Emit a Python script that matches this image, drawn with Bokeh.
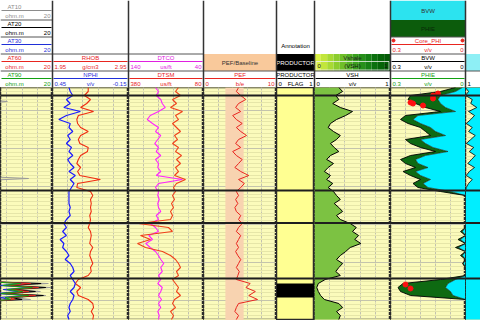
import numpy as np
from bokeh.plotting import figure
from bokeh.layouts import column, row
from bokeh.models import Range1d, FixedTicker, Span, ColumnDataSource
from bokeh.core.properties import value
from bokeh.embed import file_html
from bokeh.resources import INLINE

FONT = "Liberation Sans"

# ---------------- data ----------------
DEPTH = [2494, 2495, 2496, 2497, 2498, 2499, 2500, 2501, 2502, 2503,
         2504, 2505, 2506, 2507, 2508, 2509, 2510, 2511, 2512, 2513,
         2514, 2515, 2516, 2517, 2518, 2519, 2520, 2521, 2522, 2523,
         2524, 2525, 2526, 2527, 2528, 2529, 2530, 2531, 2532, 2533,
         2534, 2535, 2536, 2537, 2538, 2539, 2540, 2541, 2542, 2543,
         2544, 2545, 2546, 2547, 2548, 2549, 2550, 2551, 2552]

NPHI = [0.32, 0.31, 0.29, 0.34, 0.31, 0.36, 0.23, 0.34, 0.40, 0.31,
        0.32, 0.29, 0.33, 0.31, 0.34, 0.30, 0.32, 0.29, 0.33, 0.31,
        0.28, 0.32, 0.27, 0.31, 0.28, 0.30, 0.32, 0.32, 0.32, 0.32,
        0.31, 0.32, 0.31, 0.34, 0.36, 0.34, 0.37, 0.34, 0.39, 0.36,
        0.37, 0.34, 0.32, 0.35, 0.31, 0.29, 0.28, 0.31, 0.29, 0.27,
        0.28, 0.31, 0.28, 0.29, 0.31, 0.32, 0.31, 0.33, 0.32]

RHOB = [2.42, 2.42, 2.37, 2.45, 2.40, 2.32, 2.49, 2.29, 2.27, 2.28,
        2.32, 2.42, 2.32, 2.29, 2.31, 2.42, 2.41, 2.32, 2.29, 2.27,
        2.32, 2.28, 2.31, 2.58, 2.28, 2.27, 2.45, 2.48, 2.45, 2.46,
        2.45, 2.46, 2.44, 2.45, 2.44, 2.42, 2.45, 2.46, 2.45, 2.44,
        2.48, 2.45, 2.44, 2.46, 2.48, 2.45, 2.46, 2.42, 2.29, 2.25,
        2.32, 2.27, 2.29, 2.42, 2.48, 2.49, 2.46, 2.49, 2.48]

DTCO = [104, 100, 103, 97, 95, 91, 100, 111, 115, 108,
        100, 104, 97, 101, 105, 100, 103, 97, 104, 100,
        101, 97, 103, 68, 100, 104, 100, 101, 99, 101,
        100, 97, 103, 100, 111, 104, 100, 113, 108, 117,
        111, 104, 100, 97, 93, 97, 95, 100, 97, 101,
        95, 97, 100, 96, 100, 97, 101, 99, 100]

DTSM = [180, 192, 172, 204, 188, 212, 164, 192, 180, 204,
        188, 172, 196, 184, 204, 180, 192, 168, 188, 172,
        192, 180, 196, 152, 188, 200, 192, 204, 196, 208,
        200, 212, 204, 212, 340, 220, 204, 332, 292, 344,
        312, 244, 212, 192, 180, 172, 188, 180, 204, 192,
        180, 188, 172, 196, 204, 192, 212, 200, 208]

PEF = [4.8, 4.5, 5.1, 5.8, 4.8, 4.4, 5.1, 4.0, 4.5, 5.3,
       4.5, 5.1, 5.9, 4.8, 4.4, 5.1, 4.0, 4.5, 5.3, 4.8,
       4.3, 5.1, 6.2, 4.8, 5.6, 5.1, 4.5, 4.8, 4.4, 4.7,
       4.3, 4.5, 5.1, 4.8, 5.3, 4.8, 4.5, 5.1, 4.8, 4.5,
       4.8, 4.4, 4.7, 5.1, 4.8, 4.5, 4.9, 4.7, 4.5, 6.4,
       5.8, 7.1, 6.2, 7.4, 4.8, 4.5, 4.3, 4.8, 4.5]
PEF_BAND = [3.0, 5.5]

VSH = [0.32, 0.37, 0.28, 0.32, 0.24, 0.34, 0.50, 0.41, 0.29, 0.21,
       0.18, 0.25, 0.34, 0.29, 0.21, 0.26, 0.32, 0.21, 0.16, 0.25,
       0.18, 0.13, 0.21, 0.16, 0.24, 0.18, 0.25, 0.29, 0.34, 0.26,
       0.32, 0.37, 0.29, 0.34, 0.47, 0.55, 0.50, 0.58, 0.53, 0.61,
       0.47, 0.41, 0.34, 0.29, 0.37, 0.32, 0.28, 0.34, 0.14, 0.05,
       0.03, 0.05, 0.08, 0.13, 0.32, 0.37, 0.29, 0.34, 0.32]

PHIE = [0.04, 0.10, 0.22, 0.23, 0.20, 0.16, 0.10, 0.24, 0.26, 0.23,
        0.18, 0.16, 0.14, 0.24, 0.22, 0.18, 0.12, 0.22, 0.26, 0.24,
        0.20, 0.25, 0.22, 0.18, 0.21, 0.19, 0.10, 0.0, 0.0, 0.0,
        0.0, 0.0, 0.0, 0.0, 0.0, 0.0, 0.02, 0.0, 0.03, 0.0,
        0.04, 0.0, 0.02, 0.0, 0.012, 0.0, 0.0, 0.0, 0.10, 0.25,
        0.27, 0.26, 0.22, 0.0, 0.0, 0.0, 0.0, 0.0, 0.0]

BVW = [0.012, 0.04, 0.10, 0.11, 0.10, 0.08, 0.04, 0.19, 0.21, 0.18,
       0.14, 0.12, 0.08, 0.18, 0.16, 0.13, 0.07, 0.16, 0.20, 0.19,
       0.15, 0.20, 0.18, 0.14, 0.17, 0.15, 0.06, 0.0, 0.0, 0.0,
       0.0, 0.0, 0.0, 0.0, 0.0, 0.0, 0.012, 0.0, 0.02, 0.0,
       0.028, 0.0, 0.012, 0.0, 0.008, 0.0, 0.0, 0.0, 0.04, 0.07,
       0.08, 0.06, 0.05, 0.0, 0.0, 0.0, 0.0, 0.0, 0.0]

SW = [1.0, 0.96, 1.0, 0.91, 0.93, 0.85, 0.96, 0.88, 0.93, 0.99,
      0.91, 0.96, 0.87, 0.93, 0.99, 0.89, 0.95, 0.87, 0.92, 0.97,
      0.88, 0.95, 0.99, 0.91, 0.96, 0.99, 1.0, 1.0, 1.0, 1.0,
      1.0, 1.0, 1.0, 1.0, 1.0, 1.0, 1.0, 1.0, 1.0, 1.0,
      1.0, 1.0, 1.0, 1.0, 1.0, 1.0, 1.0, 1.0, 1.0, 1.0,
      1.0, 1.0, 1.0, 1.0, 1.0, 1.0, 1.0, 1.0, 1.0]

CORE_DEPTH = [2495.5, 2496.0, 2496.75, 2497.75, 2498.0, 2498.5, 2543.25, 2544.25]
CORE_PHI = [0.11, 0.13, 0.13, 0.22, 0.21, 0.17, 0.24, 0.22]

RES_DEPTH = [2494.0, 2497.0, 2497.5, 2498.0, 2516.25, 2516.75, 2517.25, 2542.5, 2543.0, 2543.5,
             2544.0, 2544.5, 2545.0, 2545.5, 2546.0, 2546.5, 2547.0, 2547.5, 2552.25]
AT10 = [2.0, 2.0, 8.1, 2.0, 2.0, 13.7, 2.0, 2.0, 18.9, 9.0, 19.5, 10.0, 16.8, 8.5, 18.2, 9.5, 14.2, 2.0, 2.0]
AT20 = [2.0, 2.0, 2.0, 2.0, 2.0, 2.0, 2.0, 2.0, 17.0, 8.5, 18.2, 9.5, 15.5, 7.5, 17.6, 9.0, 12.0, 2.0, 2.0]
AT30 = [2.0, 2.0, 2.0, 2.0, 2.0, 2.0, 2.0, 2.0, 12.0, 6.0, 14.0, 7.0, 11.0, 5.0, 13.0, 6.0, 9.0, 2.0, 2.0]
AT60 = [2.0, 2.0, 2.0, 2.0, 2.0, 2.0, 2.0, 2.0, 14.2, 8.0, 16.3, 9.0, 13.7, 7.0, 15.5, 8.4, 10.0, 2.0, 2.0]
AT90 = [2.0, 2.0, 2.0, 2.0, 2.0, 2.0, 2.0, 2.0, 11.6, 7.0, 14.7, 8.0, 12.1, 6.5, 13.7, 7.5, 9.0, 2.0, 2.0]

FLAG_DEPTH = [2494.0, 2543.0, 2543.0, 2546.5, 2546.5, 2552.25]
FLAG = [0, 0, 1, 1, 0, 0]

TOPS = [2496.0, 2519.75, 2527.9, 2541.75]

# header rows
ROW_TRACK = [0, 0, 0, 0, 0, 1, 1, 2, 2, 3, 4, 5, 6, 6, 6, 7]
ROW_SLOT = [0, 1, 2, 3, 4, 3, 4, 3, 4, 4, 4, 4, 2, 3, 4, 4]
ROW_TITLE = ["AT10", "AT20", "AT30", "AT60", "AT90", "RHOB", "NPHI", "DTCO", "DTSM",
             "PEF", "PRODUCTOR", "VSH", "Core_PHI", "BVW", "PHIE", ""]
ROW_UNIT = ["ohm.m", "ohm.m", "ohm.m", "ohm.m", "ohm.m", "g/cm3", "v/v", "us/ft", "us/ft",
            "b/e", "FLAG", "v/v", "v/v", "v/v", "v/v", ""]
ROW_LEFT = ["", "", "", "", "", "1.95", "0.45", "140", "380", "0", "0", "0", "0.3", "0.3", "0.3", "1"]
ROW_RIGHT = ["20", "20", "20", "20", "20", "2.95", "-0.15", "40", "80", "10", "1", "1", "0", "0", "0", ""]

RED = "#e8251f"
BLUE = "#1f2fd8"
GREEN = "#12a012"
MAG = "#e020e0"
ROW_COLOR = ["#8c8c8c", "#000000", BLUE, RED, GREEN, RED, BLUE, MAG, RED,
             RED, "#000000", "#000000", RED, "#000000", GREEN, "#000000"]

# ---------------- layout constants ----------------
EDGES = [0, 52, 128, 203, 276, 314, 390, 465, 480]
CENTERS = [14, 90, 165.5, 239.5, 295, 352, 427.5, 472.5]
HDR_H = 87
DATA_H = 233
YELLOW = "#fbfbbb"

yr = Range1d(start=2552.25, end=2494.0)
MAJOR = [2499.75, 2509.25, 2518.75, 2528.25, 2537.75, 2547.25]
MINOR = list(np.arange(2494.05, 2552.3, 0.95))


def track(w, xr, bg=YELLOW, xticks=()):
    p = figure(width=w, height=DATA_H, x_range=xr, y_range=yr, output_backend="svg",
               toolbar_location=None, min_border=0, background_fill_color=bg,
               x_axis_location=None, y_axis_location=None,
               outline_line_color="#2a2a2a", outline_line_width=1.5)
    p.xgrid.ticker = FixedTicker(ticks=list(xticks))
    p.xgrid.grid_line_color = "#c2c2b0"
    p.xgrid.grid_line_dash = "3 1"
    p.ygrid.ticker = FixedTicker(ticks=MAJOR, minor_ticks=MINOR)
    p.ygrid.grid_line_color = "#c4c4ac"
    p.ygrid.minor_grid_line_color = "#e6e6a8"
    for t in TOPS:
        p.add_layout(Span(location=t, dimension="width", line_color="#1e1e1e", line_width=2))
    return p


figs = []

# Track 1 resistivity
t1 = track(52, Range1d(6.3, 20), xticks=[8, 12, 16])
for vals, col in [(AT10, "#9a9a9a"), (AT20, "#000000"), (AT30, BLUE), (AT60, RED), (AT90, GREEN)]:
    t1.line(vals, RES_DEPTH, line_color=col, line_width=1)
figs.append(t1)

# Track 2 density / neutron
t2 = track(76, Range1d(1.95, 2.95), xticks=[2.15, 2.35, 2.55, 2.75])
t2.extra_x_ranges = {"nphi": Range1d(0.45, -0.15)}
t2.line(RHOB, DEPTH, line_color="#f02a10", line_width=1.1)
t2.line(NPHI, DEPTH, line_color="#1a1aff", line_width=1.2, x_range_name="nphi")
figs.append(t2)

# Track 3 sonic
t3 = track(75, Range1d(140, 40), xticks=[120, 100, 80, 60])
t3.extra_x_ranges = {"dtsm": Range1d(380, 80)}
t3.line(DTCO, DEPTH, line_color="#ff22ff", line_width=1.1)
t3.line(DTSM, DEPTH, line_color="#f0401a", line_width=1.1, x_range_name="dtsm")
figs.append(t3)

# Track 4 PEF
t4 = track(73, Range1d(0, 10), xticks=[2, 4, 6, 8])
t4.quad(left=PEF_BAND[0], right=PEF_BAND[1], top=DEPTH[0], bottom=yr.start,
        fill_color="#f8d3b0", line_color=None)
t4.line(PEF, DEPTH, line_color="#e8251f", line_width=1)
figs.append(t4)

# Track 5 flag
t5 = track(38, Range1d(0, 1), bg="#ffff92")
t5.xgrid.grid_line_color = None
t5.ygrid.grid_line_color = None
t5.ygrid.minor_grid_line_color = None
t5.harea(x1=0, x2=FLAG, y=FLAG_DEPTH, fill_color="#000000")
figs.append(t5)

# Track 6 VSH
t6 = track(76, Range1d(0, 1), xticks=[0.2, 0.4, 0.6, 0.8])
t6.harea(x1=0, x2=VSH, y=DEPTH, fill_color="#7cc242")
t6.line(VSH, DEPTH, line_color="#000000", line_width=1)
figs.append(t6)

# Track 7 porosity
t7 = track(75, Range1d(0.3, 0), xticks=[0.24, 0.18, 0.12, 0.06])
t7.harea(x1=PHIE, x2=BVW, y=DEPTH, fill_color="#0e6a12")
t7.harea(x1=BVW, x2=0, y=DEPTH, fill_color="#00eeff")
t7.line(PHIE, DEPTH, line_color="#000000", line_width=0.9)
t7.line(BVW, DEPTH, line_color="#1a1a1a", line_width=0.6)
t7.scatter(CORE_PHI, CORE_DEPTH, marker="circle", size=5, fill_color="#ff1010", line_color="#ff1010")
figs.append(t7)

# Track 8 (partly visible)
t8 = track(15, Range1d(1, 0.8))
t8.xgrid.grid_line_color = None
t8.harea(x1=SW, x2=0.8, y=DEPTH, fill_color="#00eeff")
t8.line(SW, DEPTH, line_color="#000000", line_width=0.8)
figs.append(t8)

# ---------------- header ----------------
hdr = figure(width=480, height=HDR_H, x_range=Range1d(0, 480), y_range=Range1d(HDR_H, 0),
             output_backend="svg", toolbar_location=None, min_border=0,
             x_axis_location=None, y_axis_location=None, outline_line_color=None,
             background_fill_color="white")
hdr.grid.visible = False

# coloured header boxes
BOX_L = [203, 276, 465, 390, 390]
BOX_R = [276, 314, 480, 465, 465]
BOX_T = [53.5, 53.5, 53.5, 0, 19.5]
BOX_B = [70.5, 70.5, 70.5, 19.5, 36.5]
BOX_C = ["#f9c99b", "#000000", "#8eeff5", "#2ce3ef", "#0c5c0c"]
hdr.quad(left=BOX_L, right=BOX_R, top=BOX_T, bottom=BOX_B, fill_color=BOX_C, line_color=None)

# Vshale gradient box
GRAD = ["#d8ef45", "#c2e63c", "#a8da34", "#8ccd2e", "#6fbf29", "#53b024",
        "#3aa01f", "#26901a", "#168014", "#0b700e", "#066409", "#045a07"]
gx = np.linspace(314, 390, len(GRAD) + 1)
hdr.quad(left=gx[:-1], right=gx[1:], top=53.5, bottom=70.5, fill_color=GRAD, line_color=None)
hdr.quad(left=315.5, right=388.5, top=61, bottom=69.5, fill_alpha=0, line_color="#f0f0f0", line_width=0.8)

# separators and underlines
sx0, sx1, sy, sc = [], [], [], []
ux0, ux1, uy, uc = [], [], [], []
tx, ty, tt, tc, ta = [], [], [], [], []
for k in range(len(ROW_TRACK)):
    tr = ROW_TRACK[k]
    top = 2.5 + 17 * ROW_SLOT[k]
    l, r = EDGES[tr], EDGES[tr + 1]
    if top > 5:
        sx0.append(l); sx1.append(r); sy.append(top); sc.append("#555555")
    if ROW_TITLE[k]:
        ux0.append(l + 1); ux1.append(r - 1); uy.append(top + 7.5); uc.append(ROW_COLOR[k])
        tx.append(CENTERS[tr]); ty.append(top + 3.6); tt.append(ROW_TITLE[k]); tc.append(ROW_COLOR[k]); ta.append("center")
    if ROW_UNIT[k]:
        tx.append(CENTERS[tr]); ty.append(top + 12.6); tt.append(ROW_UNIT[k]); tc.append(ROW_COLOR[k]); ta.append("center")
    if ROW_LEFT[k]:
        tx.append(l + 2); ty.append(top + 12.6); tt.append(ROW_LEFT[k]); tc.append(ROW_COLOR[k]); ta.append("left")
    if ROW_RIGHT[k]:
        tx.append(r - 2); ty.append(top + 12.6); tt.append(ROW_RIGHT[k]); tc.append(ROW_COLOR[k]); ta.append("right")

hdr.segment(x0=sx0, y0=sy, x1=sx1, y1=sy, line_color=sc, line_width=1)
hdr.segment(x0=ux0, y0=uy, x1=ux1, y1=uy, line_color=uc, line_width=1.2)

# box labels
tx += [239.5, 295, 352, 317, 352, 387, 427.5, 427.5, 295]
ty += [62, 62, 57, 65.5, 65.5, 65.5, 10, 28, 45]
tt += ["PEF/Baseline", "PRODUCTOR", "Vshale", "0", "(VSH)", "1", "BVW", "PHIE", "Annotation"]
tc += ["#333333", "#ffffff", "#222222", "#111111", "#111111", "#111111", "#333333", "#082808", "#000000"]
ta += ["center", "center", "center", "left", "center", "right", "center", "center", "center"]

src = ColumnDataSource(dict(x=tx, y=ty, text=tt, color=tc, align=ta))
hdr.text(x="x", y="y", text="text", source=src, text_color="color", text_align="align",
         text_baseline="middle", text_font=value(FONT), text_font_size=value("6px"))
hdr.scatter([393, 462], [40, 40], marker="circle", size=3, color=RED)

# vertical track separators in header
hdr.segment(x0=EDGES[1:-1], y0=0, x1=EDGES[1:-1], y1=HDR_H, line_color="#333333", line_width=1.5)

layout = column(hdr, row(*figs, spacing=0), spacing=0)
open("out.html", "w").write(file_html(layout, INLINE, title="Well log"))
